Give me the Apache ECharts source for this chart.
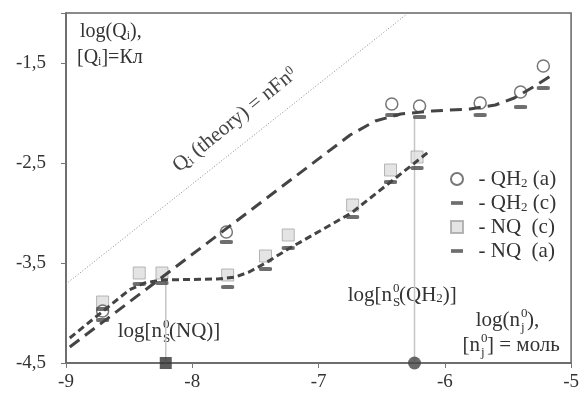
<!DOCTYPE html>
<html>
<head>
<meta charset="utf-8">
<script src="https://cdn.jsdelivr.net/npm/echarts@6/dist/echarts.min.js"></script>
<style>
	html, body { margin: 0; padding: 0; background: #fff; }
	#chart { width: 582px; height: 396px; }
</style>
</head>
<body>
<div id="chart"></div>
<script>
	// NQ: точки (c) - квадраты, (a) - черточки
	var nqX = [-8.71, -8.42, -8.24, -7.72, -7.42, -7.24, -6.73, -6.43, -6.22];
	var nqC = [-3.89, -3.60, -3.60, -3.62, -3.43, -3.22, -2.92, -2.57, -2.44];
	var nqA = [-3.96, -3.71, -3.70, -3.74, -3.56, -3.35, -3.04, -2.69, -2.55];

	// QH2: (a) - кружки, (c) - черточки
	var qhX = [-8.71, -7.73, -6.42, -6.20, -5.72, -5.40, -5.22];
	var qhA = [-3.98, -3.19, -1.91, -1.93, -1.90, -1.79, -1.53];
	var qhC = [-4.07, -3.29, -2.02, -2.04, -2.02, -1.94, -1.75];

	// пунктирные кривые
	var nqFitX = [-8.97, -8.50, -8.38, -8.25, -7.80, -7.66, -7.55, -7.42, -7.24, -6.74, -6.42, -6.12];
	var nqFitY = [-4.25, -3.77, -3.70, -3.67, -3.66, -3.64, -3.59, -3.50, -3.36, -3.00, -2.68, -2.38];
	var qhFitX = [-8.97, -6.75, -6.55, -6.35, -6.10, -5.80, -5.60, -5.45, -5.30, -5.15];
	var qhFitY = [-4.34, -2.22, -2.08, -2.01, -1.98, -1.96, -1.92, -1.85, -1.74, -1.62];

	// Q(theory) = nFn0
	var theoryX = [-9, -6.29];
	var theoryY = [-3.71, -1.0];

	// вертикальные линии n_S0 и маркеры на оси
	var guideX = [-8.21, -6.24];
	var guideTop = [-3.66, -2.03];
	var axisY = -4.5;

	var xTicks = [-9, -8, -7, -6, -5];
	var yTicks = [-4.5, -3.5, -2.5, -1.5];

	var FONT = '"Liberation Serif", "Times New Roman", serif';
	var TXT = '#333';

	function pairs(xs, ys) {
		return xs.map(function (x, i) { return [x, ys[i]]; });
	}

	function dashSeries(name, xs, ys) {
		return {
			name: name, type: 'scatter', z: 4,
			symbol: 'roundRect', symbolSize: [13, 4],
			itemStyle: { color: '#4a4a4a' },
			data: pairs(xs, ys)
		};
	}

	// подпись вида  pre + (0 над S) + post
	function stackLabel(x, y, pre, sup, sub, post, size) {
		var base = size + 'px ' + FONT;
		var small = Math.round(size * 0.62) + 'px ' + FONT;
		var rich = {
			s: { fontSize: Math.round(size * 0.62), fontFamily: FONT, fill: TXT, verticalAlign: 'bottom', lineHeight: 12 }
		};
		return [
			{ type: 'text', x: x, y: y, style: { text: pre, font: base, fill: TXT, align: 'right', verticalAlign: 'middle' } },
			{ type: 'text', x: x + 1, y: y - 6, style: { text: sup, font: small, fill: TXT, align: 'left', verticalAlign: 'middle' } },
			{ type: 'text', x: x + 1, y: y + 8, style: { text: sub, font: small, fill: TXT, align: 'left', verticalAlign: 'middle' } },
			{ type: 'text', x: x + 7, y: y, style: { text: post, font: base, fill: TXT, align: 'left', verticalAlign: 'middle', rich: rich } }
		];
	}

	var legendNames = {
		'QH2 (a)': '  - QH{s|2} (a)',
		'QH2 (c)': '  - QH{s|2} (c)',
		'NQ (c)': '  - NQ  (c)',
		'NQ (a)': '  - NQ  (a)'
	};
	var dashIcon = 'path://M0,0h13v4h-13z';

	var subRich = { s: { fontSize: 13, fontFamily: FONT, color: TXT, verticalAlign: 'bottom', lineHeight: 14 } };
	var smallSub = { fontSize: 12, fontFamily: FONT, fill: TXT, verticalAlign: 'bottom', lineHeight: 12 };

	var graphics = [
		{ type: 'text', x: 80, y: 32, style: { text: 'log(Q{s|i}),', font: '20px ' + FONT, fill: TXT, verticalAlign: 'middle', rich: { s: smallSub } } },
		{ type: 'text', x: 77, y: 58, style: { text: '[Q{s|i}]=Кл', font: '20px ' + FONT, fill: TXT, verticalAlign: 'middle', rich: { s: smallSub } } },
		{ type: 'text', x: 235, y: 120, rotation: 0.68,
			style: { text: 'Q{s|i} (theory) = nFn{p|0}', font: '21px ' + FONT, fill: '#444', align: 'center', verticalAlign: 'middle',
				rich: { s: { fontSize: 13, fontFamily: FONT, fill: '#444', verticalAlign: 'bottom', lineHeight: 12 },
					p: { fontSize: 13, fontFamily: FONT, fill: '#444', verticalAlign: 'top', lineHeight: 12 } } } }
	];
	graphics = graphics
		.concat(stackLabel(162, 331, 'log[n', '0', 'S', '(NQ)]', 21))
		.concat(stackLabel(392, 295, 'log[n', '0', 'S', '(QH{s|2})]', 21))
		.concat(stackLabel(520, 320, 'log(n', '0', 'j', '),', 21))
		.concat(stackLabel(480, 345, '[n', '0', 'j', '] = моль', 21));

	var option = {
		animation: false,
		grid: { left: 66, right: 8, top: 13, bottom: 33, show: true, borderColor: '#666', borderWidth: 1.5 },
		xAxis: {
			type: 'value', min: xTicks[0], max: xTicks[xTicks.length - 1], interval: 1,
			axisLine: { lineStyle: { color: '#666', width: 1.5 } },
			axisTick: { length: 5, lineStyle: { color: '#777' } },
			splitLine: { show: false },
			axisLabel: { margin: 10, fontSize: 19, fontFamily: FONT, color: TXT }
		},
		yAxis: {
			type: 'value', min: yTicks[0], max: -1.0, interval: 1,
			axisLine: { lineStyle: { color: '#666', width: 1.5 } },
			axisTick: { length: 5, lineStyle: { color: '#777' } },
			splitLine: { show: false },
			axisLabel: {
				margin: 20, fontSize: 19, fontFamily: FONT, color: TXT,
				formatter: function (v) {
					return yTicks.indexOf(v) < 0 ? '' : String(v).replace('.', ',');
				}
			}
		},
		legend: {
			orient: 'vertical', left: 445, top: 163, itemGap: 2,
			itemWidth: 12, itemHeight: 12, selectedMode: false,
			formatter: function (name) { return legendNames[name]; },
			textStyle: { fontSize: 21, fontFamily: FONT, color: TXT, lineHeight: 22, rich: subRich },
			data: [
				{ name: 'QH2 (a)', icon: 'circle' },
				{ name: 'QH2 (c)', icon: dashIcon },
				{ name: 'NQ (c)', icon: 'rect' },
				{ name: 'NQ (a)', icon: dashIcon }
			]
		},
		graphic: graphics,
		series: [
			{
				type: 'line', z: 1, silent: true, showSymbol: false,
				lineStyle: { color: '#888', width: 1, type: [1, 2] },
				data: pairs(theoryX, theoryY)
			},
			{
				type: 'line', z: 1, silent: true, showSymbol: false,
				lineStyle: { color: '#c6c6c6', width: 1.5 },
				data: [[guideX[0], axisY], [guideX[0], guideTop[0]]]
			},
			{
				type: 'line', z: 1, silent: true, showSymbol: false,
				lineStyle: { color: '#c6c6c6', width: 1.5 },
				data: [[guideX[1], axisY], [guideX[1], guideTop[1]]]
			},
			{
				name: 'NQ (c)', type: 'scatter', z: 2,
				symbol: 'rect', symbolSize: 12,
				itemStyle: { color: '#dddddd', borderColor: '#a5a5a5', borderWidth: 1 },
				data: pairs(nqX, nqC)
			},
			{
				name: 'QH2 (a)', type: 'scatter', z: 3,
				symbol: 'circle', symbolSize: 12,
				itemStyle: { color: '#ffffff', borderColor: '#555', borderWidth: 1.5 },
				data: pairs(qhX, qhA)
			},
			dashSeries('QH2 (c)', qhX, qhC),
			dashSeries('NQ (a)', nqX, nqA),
			{
				type: 'line', z: 5, silent: true, showSymbol: false,
				lineStyle: { color: '#444', width: 3, type: [7, 4], join: 'round' },
				data: pairs(nqFitX, nqFitY)
			},
			{
				type: 'line', z: 5, silent: true, showSymbol: false,
				lineStyle: { color: '#444', width: 3, type: [12, 7], join: 'round' },
				data: pairs(qhFitX, qhFitY)
			},
			{
				type: 'scatter', z: 6, clip: false, silent: true,
				symbol: 'rect', symbolSize: 12,
				itemStyle: { color: '#333' },
				data: [[guideX[0], axisY]]
			},
			{
				type: 'scatter', z: 6, clip: false, silent: true,
				symbol: 'circle', symbolSize: 13,
				itemStyle: { color: '#444' },
				data: [[guideX[1], axisY]]
			}
		]
	};

	var chart = echarts.init(document.getElementById('chart'));
	chart.setOption(option);
</script>
</body>
</html>
